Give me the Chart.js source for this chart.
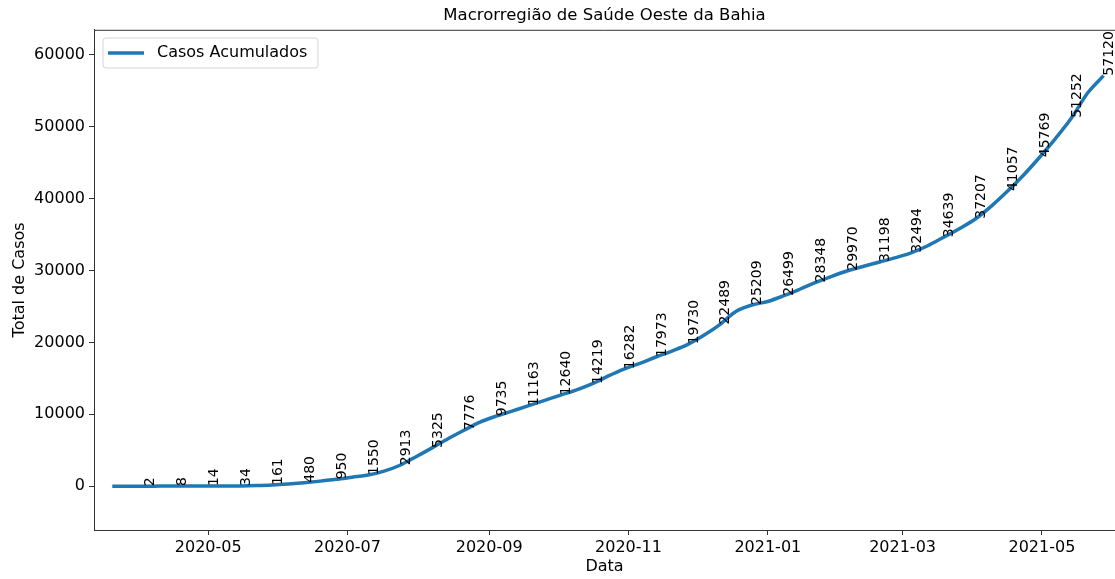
<!DOCTYPE html>
<html lang="pt-BR">
<head>
<meta charset="utf-8">
<title>Macrorregião de Saúde Oeste da Bahia</title>
<script src="https://cdn.jsdelivr.net/npm/chart.js@4/dist/chart.umd.min.js"></script>
<style>
  html, body { margin: 0; padding: 0; background: #fff; }
  canvas { display: block; }
</style>
</head>
<body>
<canvas id="grafico" width="1115" height="579"></canvas>
<script>
// Datas das amostras semanais (a cada 7 dias)
const datas = [
  '2020-03-20','2020-03-27','2020-04-03','2020-04-10','2020-04-17','2020-04-24',
  '2020-05-01','2020-05-08','2020-05-15','2020-05-22','2020-05-29','2020-06-05',
  '2020-06-12','2020-06-19','2020-06-26','2020-07-03','2020-07-10','2020-07-17',
  '2020-07-24','2020-07-31','2020-08-07','2020-08-14','2020-08-21','2020-08-28',
  '2020-09-04','2020-09-11','2020-09-18','2020-09-25','2020-10-02','2020-10-09',
  '2020-10-16','2020-10-23','2020-10-30','2020-11-06','2020-11-13','2020-11-20',
  '2020-11-27','2020-12-04','2020-12-11','2020-12-18','2020-12-25','2021-01-01',
  '2021-01-08','2021-01-15','2021-01-22','2021-01-29','2021-02-05','2021-02-12',
  '2021-02-19','2021-02-26','2021-03-05','2021-03-12','2021-03-19','2021-03-26',
  '2021-04-02','2021-04-09','2021-04-16','2021-04-23','2021-04-30','2021-05-07',
  '2021-05-14','2021-05-21','2021-05-28'
];

// Casos acumulados em cada data
const casosAcumulados = [
  1, 1, 2, 5, 8, 11,
  14, 22, 34, 80, 161, 300,
  480, 700, 950, 1250, 1550, 2100,
  2913, 4100, 5325, 6600, 7776, 8900,
  9735, 10450, 11163, 11900, 12640, 13350,
  14219, 15300, 16282, 17100, 17973, 18800,
  19730, 21000, 22489, 24300, 25209, 25700,
  26499, 27400, 28348, 29200, 29970, 30600,
  31198, 31800, 32494, 33450, 34639, 35850,
  37207, 39000, 41057, 43300, 45769, 48400,
  51252, 54700, 57120
];

// Datas que recebem rótulo com o total (a cada 14 dias)
const datasRotuladas = [
  '2020-04-03','2020-04-17','2020-05-01','2020-05-15','2020-05-29','2020-06-12',
  '2020-06-26','2020-07-10','2020-07-24','2020-08-07','2020-08-21','2020-09-04',
  '2020-09-18','2020-10-02','2020-10-16','2020-10-30','2020-11-13','2020-11-27',
  '2020-12-11','2020-12-25','2021-01-08','2021-01-22','2021-02-05','2021-02-19',
  '2021-03-05','2021-03-19','2021-04-02','2021-04-16','2021-04-30','2021-05-14',
  '2021-05-28'
];

// Marcas do eixo X
const marcasX = ['2020-05-01','2020-07-01','2020-09-01','2020-11-01','2021-01-01','2021-03-01','2021-05-01'];
// Marcas do eixo Y
const marcasY = [0, 10000, 20000, 30000, 40000, 50000, 60000];

// Limites dos eixos
const limiteX = ['2020-03-12', '2021-06-02'];
const limiteY = [-6100, 63500];

const FONTE = "'DejaVu Sans', 'Liberation Sans', sans-serif";
const AZUL = '#1f77b4';

function dia(s) {
  const [a, m, d] = s.split('-').map(Number);
  return Date.UTC(a, m - 1, d) / 86400000;
}
function rotuloMes(v) {
  const dt = new Date(v * 86400000);
  const m = dt.getUTCMonth() + 1;
  return dt.getUTCFullYear() + '-' + (m < 10 ? '0' + m : m);
}

const pontos = datas.map((d, i) => ({ x: dia(d), y: casosAcumulados[i] }));
const rotulos = datasRotuladas.map(d => {
  const i = datas.indexOf(d);
  return { x: dia(d), y: casosAcumulados[i] };
});

// Moldura superior, legenda e rótulos verticais dos valores
const extras = {
  id: 'extras',
  afterDatasetsDraw(chart) {
    const ctx = chart.ctx;
    const xs = chart.scales.x, ys = chart.scales.y;
    const area = chart.chartArea;

    ctx.save();
    ctx.fillStyle = '#000';
    ctx.font = '14px ' + FONTE;
    ctx.textAlign = 'left';
    ctx.textBaseline = 'top';
    rotulos.forEach(p => {
      const px = xs.getPixelForValue(p.x);
      const py = ys.getPixelForValue(p.y);
      ctx.save();
      ctx.translate(px - 1, py);
      ctx.rotate(-Math.PI / 2);
      ctx.fillText(String(p.y), 0, 0);
      ctx.restore();
    });
    ctx.restore();

    // borda superior
    ctx.save();
    ctx.strokeStyle = '#333';
    ctx.lineWidth = 1;
    ctx.beginPath();
    ctx.moveTo(area.left, area.top + 0.5);
    ctx.lineTo(area.right, area.top + 0.5);
    ctx.stroke();
    ctx.restore();

    // legenda
    ctx.save();
    const lx = 103, ly = 38, lw = 215, lh = 30, r = 3;
    ctx.beginPath();
    ctx.moveTo(lx + r, ly);
    ctx.lineTo(lx + lw - r, ly);
    ctx.quadraticCurveTo(lx + lw, ly, lx + lw, ly + r);
    ctx.lineTo(lx + lw, ly + lh - r);
    ctx.quadraticCurveTo(lx + lw, ly + lh, lx + lw - r, ly + lh);
    ctx.lineTo(lx + r, ly + lh);
    ctx.quadraticCurveTo(lx, ly + lh, lx, ly + lh - r);
    ctx.lineTo(lx, ly + r);
    ctx.quadraticCurveTo(lx, ly, lx + r, ly);
    ctx.closePath();
    ctx.fillStyle = 'rgba(255,255,255,0.8)';
    ctx.fill();
    ctx.strokeStyle = '#d6d6d6';
    ctx.lineWidth = 1;
    ctx.stroke();
    ctx.strokeStyle = AZUL;
    ctx.lineWidth = 3.5;
    ctx.beginPath();
    ctx.moveTo(108, 53);
    ctx.lineTo(144, 53);
    ctx.stroke();
    ctx.fillStyle = '#000';
    ctx.font = '16px ' + FONTE;
    ctx.textAlign = 'left';
    ctx.textBaseline = 'middle';
    ctx.fillText('Casos Acumulados', 157, 53);
    ctx.restore();
  }
};

new Chart(document.getElementById('grafico'), {
  type: 'line',
  data: {
    datasets: [{
      label: 'Casos Acumulados',
      data: pontos,
      borderColor: AZUL,
      backgroundColor: AZUL,
      borderWidth: 3.5,
      pointRadius: 0,
      cubicInterpolationMode: 'monotone',
      fill: false
    }]
  },
  options: {
    responsive: false,
    devicePixelRatio: 1,
    animation: false,
    layout: { padding: { left: 0, right: 0, top: 0, bottom: 0 } },
    plugins: {
      legend: { display: false },
      tooltip: { enabled: false },
      title: {
        display: true,
        text: 'Macrorregião de Saúde Oeste da Bahia',
        color: '#000',
        fullSize: false,
        font: { family: FONTE, size: 16.5, weight: 'normal' },
        padding: { top: 6, bottom: 4 }
      }
    },
    scales: {
      x: {
        type: 'linear',
        min: dia(limiteX[0]),
        max: dia(limiteX[1]),
        afterBuildTicks(s) { s.ticks = marcasX.map(d => ({ value: dia(d) })); },
        afterFit(s) { s.height = 49; },
        ticks: {
          autoSkip: false,
          maxRotation: 0,
          color: '#000',
          padding: 3,
          font: { family: FONTE, size: 16 },
          callback: v => rotuloMes(v)
        },
        grid: { drawOnChartArea: false, drawTicks: true, tickLength: 5, color: '#333' },
        border: { display: true, color: '#333', width: 1 },
        title: {
          display: true,
          text: 'Data',
          color: '#000',
          font: { family: FONTE, size: 16 },
          padding: { top: 0, bottom: 3 }
        }
      },
      y: {
        type: 'linear',
        min: limiteY[0],
        max: limiteY[1],
        afterBuildTicks(s) { s.ticks = marcasY.map(v => ({ value: v })); },
        afterFit(s) { s.width = 94; },
        ticks: {
          color: '#000',
          padding: 4,
          font: { family: FONTE, size: 16 },
          callback: v => String(v)
        },
        grid: { drawOnChartArea: false, drawTicks: true, tickLength: 5, color: '#333' },
        border: { display: true, color: '#333', width: 1 },
        title: {
          display: true,
          text: 'Total de Casos',
          color: '#000',
          font: { family: FONTE, size: 16 },
          padding: { top: 10, bottom: 0 }
        }
      }
    }
  },
  plugins: [extras]
});
</script>
</body>
</html>
